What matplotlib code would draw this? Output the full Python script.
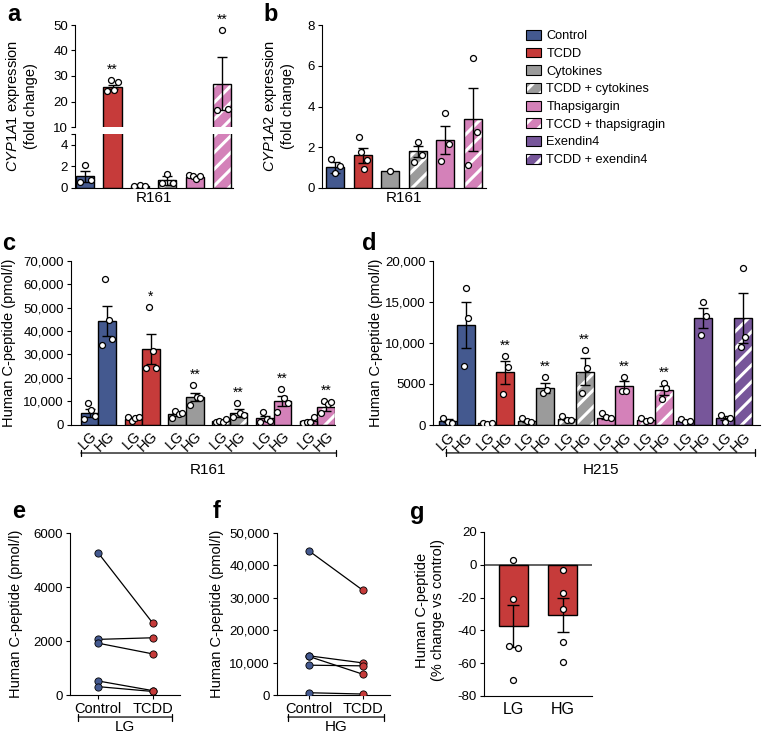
import numpy as np
import matplotlib.pyplot as plt
from matplotlib.patches import Patch
from matplotlib.ticker import FuncFormatter

plt.rcParams['font.family'] = ['Liberation Sans', 'DejaVu Sans']
plt.rcParams['mathtext.fontset'] = 'custom'
plt.rcParams['mathtext.it'] = 'Liberation Sans:italic'
plt.rcParams['mathtext.rm'] = 'Liberation Sans'
plt.rcParams['axes.unicode_minus'] = False
plt.rcParams['hatch.linewidth'] = 2.2
plt.rcParams['xtick.labelsize'] = 9.5
plt.rcParams['ytick.labelsize'] = 9.5

# treatment groups (legend order)
treat_names = ['Control', 'TCDD', 'Cytokines', 'TCDD + cytokines', 'Thapsigargin',
               'TCCD + thapsigragin', 'Exendin4', 'TCDD + exendin4']
blue, red, grey, pink, purple = '#44598f', '#c63b3a', '#9b9b9b', '#d481b9', '#77569a'
treat_colors = [blue, red, grey, grey, pink, pink, purple, purple]
treat_hatch = [False, False, False, True, False, True, False, True]

# a: CYP1A1 fold change, R161 (first six treatments)
a_mean = [1.1, 25.7, 0.2, 0.7, 1.0, 27.0]
a_sem = [0.5, 0.9, 0.05, 0.4, 0.12, 10.5]
a_pts = [[0.6, 2.1, 0.7], [24.0, 28.5, 24.5, 27.5], [0.2, 0.25, 0.2],
         [0.45, 1.3, 0.5], [1.2, 1.1, 0.8, 1.1], [16.5, 48.0, 17.0]]
a_star = ['', '**', '', '', '', '**']

# b: CYP1A2 fold change, R161
b_mean = [1.02, 1.6, 0.83, 1.8, 2.35, 3.38]
b_sem = [0.27, 0.36, 0, 0.27, 0.68, 1.55]
b_pts = [[1.4, 0.74, 1.1], [2.5, 1.77, 0.95, 1.35], [0.85],
         [1.3, 2.25, 1.6], [1.34, 3.7, 2.15], [1.12, 6.4, 2.76]]

# c: C-peptide R161 (pmol/l), LG / HG
c_lg_mean = [5100, 2300, 4400, 1700, 2700, 1400]
c_lg_sem = [1800, 500, 700, 400, 1200, 500]
c_lg_pts = [[2300, 9100, 6200, 3800], [3400, 1600, 3000, 3400], [2700, 5800, 4500, 5200],
            [1200, 1400, 1300, 2600], [1300, 5500, 2300, 1700], [900, 1300, 1200, 3100]]
c_hg_mean = [44200, 32200, 11900, 5000, 10100, 7400]
c_hg_sem = [6500, 6300, 1700, 1500, 2300, 1700]
c_hg_pts = [[33900, 62200, 44900, 36400], [24100, 50100, 31400, 24100],
            [8600, 16900, 11900, 11200], [3400, 9100, 5100, 4100],
            [5300, 15200, 11200, 9100], [5100, 10100, 8800, 9500]]
c_star = ['', '*', '**', '**', '**', '**']

# d: C-peptide H215 (pmol/l), LG / HG
d_lg_mean = [530, 200, 500, 700, 900, 600, 500, 900]
d_lg_sem = [200, 40, 150, 150, 150, 100, 100, 250]
d_lg_pts = [[900, 400, 300], [200, 150, 200], [900, 500, 400], [1100, 600, 600],
            [1400, 1000, 900], [800, 500, 650], [700, 350, 500], [1200, 400, 900]]
d_hg_mean = [12200, 6400, 4500, 6500, 4700, 4200, 13000, 13000]
d_hg_sem = [2800, 1350, 600, 1600, 600, 500, 1250, 3050]
d_hg_pts = [[7200, 16700, 13000], [3800, 8400, 7100], [3900, 5800, 4200], [3900, 9100, 6900],
            [4100, 5800, 4100], [3200, 5100, 4500], [10900, 15000, 13300], [9500, 19100, 10700]]
d_star = ['', '**', '**', '**', '**', '**', '', '']

# e / f: paired donors, control vs TCDD
pair_labels = ['Control', 'TCDD']
e_ctrl = [5270, 2060, 1920, 520, 310]
e_tcdd = [2650, 2120, 1520, 160, 130]
f_ctrl = [44500, 12100, 11900, 9200, 700]
f_tcdd = [32300, 9900, 6400, 9000, 300]

# g: % change vs control
g_labels = ['LG', 'HG']
g_mean = [-37.5, -30.7]
g_sem = [12.8, 10.2]
g_pts = [[3, -21, -49.5, -50.5, -70], [-3, -17.3, -27, -47.3, -59.2]]
g_dx = [[0, 0, -0.09, 0.09, 0], [0, 0, 0, 0, 0]]

W, H = 762, 733
fig = plt.figure(figsize=(W / 100, H / 100), dpi=100)


def box(l, t, r, b):
    ax = fig.add_axes([l / W, 1 - b / H, (r - l) / W, (b - t) / H])
    ax.spines[['top', 'right']].set_visible(False)
    ax.tick_params(direction='out', length=3, width=0.8, pad=2)
    return ax


def fmt(v, pos):
    return f'{int(v):,}' if abs(v) >= 10000 else f'{int(v)}'


def bars(ax, xs, means, sems, pts, colors, hatch, width, spread, clip=True):
    for x, m, s, p, c, h in zip(xs, means, sems, pts, colors, hatch):
        if h:
            ax.bar(x, m, width, color=c, edgecolor='white', hatch='//', linewidth=0, zorder=2)
            ax.bar(x, m, width, fill=False, edgecolor='black', linewidth=1, zorder=3)
        else:
            ax.bar(x, m, width, color=c, edgecolor='black', linewidth=1, zorder=2)
        if s > 0:
            ax.errorbar(x, m, yerr=s, fmt='none', ecolor='black', elinewidth=1,
                        capsize=3.5, capthick=1, zorder=4)
        dx = np.linspace(-spread, spread, len(p)) if len(p) > 1 else np.zeros(1)
        ax.plot(x + dx, p, 'o', ms=4.3, mfc='white', mec='black', mew=0.9,
                zorder=5, clip_on=clip)


def stars(ax, xs, means, sems, pts, marks):
    for x, m, s, p, t in zip(xs, means, sems, pts, marks):
        if t:
            ax.annotate(t, (x, max(max(p), m + s)), xytext=(0, 2.5), textcoords='offset points',
                        ha='center', va='bottom', fontsize=10, annotation_clip=False)


def bracket(ax, x0, x1, y, label, ly):
    tr = ax.get_xaxis_transform()
    ax.annotate('', xy=(x0, y), xytext=(x1, y), xycoords=tr, textcoords=tr,
                arrowprops=dict(arrowstyle='|-|,widthA=0.25,widthB=0.25', lw=0.9,
                                shrinkA=0, shrinkB=0), annotation_clip=False)
    ax.text((x0 + x1) / 2, ly, label, transform=tr, ha='center', va='center', fontsize=11)


# ---- panel a (broken axis)
xa = np.arange(6)
a_lo = box(75, 134, 233, 188)
a_hi = box(75, 25, 233, 127)
for ax in (a_lo, a_hi):
    bars(ax, xa, a_mean, a_sem, a_pts, treat_colors, treat_hatch, 0.66, 0.2)
    ax.set_xlim(-0.37, 5.4)
a_lo.set_ylim(0, 5)
a_lo.set_yticks([0, 2, 4, 5], ['0', '2', '4', ''])
a_lo.set_xticks([])
a_lo.set_xlabel('R161', fontsize=11, labelpad=2)
a_hi.set_ylim(10, 50)
a_hi.set_yticks([10, 20, 30, 40, 50])
a_hi.spines['bottom'].set_visible(False)
a_hi.set_xticks([])
stars(a_hi, xa, a_mean, a_sem, a_pts, a_star)
fig.text(21 / W, 1 - 106 / H, '$\\it{CYP1A1}$ expression\n(fold change)', rotation=90,
         ha='center', va='center', fontsize=10.5, multialignment='center')

# ---- panel b
b = box(322, 25, 486, 188)
bars(b, xa, b_mean, b_sem, b_pts, treat_colors, treat_hatch, 0.66, 0.15)
b.set_xlim(-0.49, 5.49)
b.set_ylim(0, 8)
b.set_yticks([0, 2, 4, 6, 8])
b.set_xticks([])
b.set_xlabel('R161', fontsize=11, labelpad=2)
fig.text(278 / W, 1 - 106 / H, '$\\it{CYP1A2}$ expression\n(fold change)', rotation=90,
         ha='center', va='center', fontsize=10.5, multialignment='center')

# ---- legend
handles = []
for c, h in zip(treat_colors, treat_hatch):
    if h:
        handles.append((Patch(facecolor=c, edgecolor='white', hatch='//', linewidth=0),
                        Patch(fill=False, edgecolor='black', linewidth=0.8)))
    else:
        handles.append(Patch(facecolor=c, edgecolor='black', linewidth=0.8))
fig.legend(handles, treat_names, loc='upper left', bbox_to_anchor=(526 / W, 1 - 30 / H),
           frameon=False, fontsize=9.2, handlelength=1.15, handleheight=0.8,
           handletextpad=0.45, labelspacing=0.42, borderaxespad=0, borderpad=0)

# ---- panel c
xc_lg = np.arange(6) * 2.5
xc_hg = xc_lg + 1
c = box(71, 260.7, 335, 424.7)
bars(c, xc_lg, c_lg_mean, c_lg_sem, c_lg_pts, treat_colors, treat_hatch, 1, 0.3)
bars(c, xc_hg, c_hg_mean, c_hg_sem, c_hg_pts, treat_colors, treat_hatch, 1, 0.3)
stars(c, xc_hg, c_hg_mean, c_hg_sem, c_hg_pts, c_star)
c.set_xlim(-1.06, 14.0)
c.set_ylim(0, 70000)
c.set_yticks(np.arange(0, 70001, 10000))
c.yaxis.set_major_formatter(FuncFormatter(fmt))
c.set_xticks(np.concatenate([xc_lg, xc_hg]), ['LG'] * 6 + ['HG'] * 6, rotation=45,
             ha='right', va='top', rotation_mode='anchor', fontsize=10.5)
c.tick_params(axis='x', length=0, pad=3)
bracket(c, -0.5, 14.05, -0.1726, 'R161', -0.276)
fig.text(9 / W, 1 - 342.7 / H, 'Human C-peptide (pmol/l)', rotation=90,
         ha='center', va='center', fontsize=10.5)

# ---- panel d
xd_lg = np.arange(8) * 2.2
xd_hg = xd_lg + 1
d = box(433, 260.7, 760, 425)
bars(d, xd_lg, d_lg_mean, d_lg_sem, d_lg_pts, treat_colors, treat_hatch, 1, 0.25)
bars(d, xd_hg, d_hg_mean, d_hg_sem, d_hg_pts, treat_colors, treat_hatch, 1, 0.12)
stars(d, xd_hg, d_hg_mean, d_hg_sem, d_hg_pts, d_star)
d.set_xlim(-0.82, 17.34)
d.set_ylim(0, 20000)
d.set_yticks(np.arange(0, 20001, 5000))
d.yaxis.set_major_formatter(FuncFormatter(fmt))
d.set_xticks(np.concatenate([xd_lg, xd_hg]), ['LG'] * 8 + ['HG'] * 8, rotation=45,
             ha='right', va='top', rotation_mode='anchor', fontsize=10.5)
d.tick_params(axis='x', length=0, pad=3)
bracket(d, -0.1, 17.07, -0.17, 'H215', -0.276)
fig.text(376 / W, 1 - 342.7 / H, 'Human C-peptide (pmol/l)', rotation=90,
         ha='center', va='center', fontsize=10.5)


# ---- panels e, f
def paired(ax, ctrl, tcdd, top, step):
    for y0, y1 in zip(ctrl, tcdd):
        ax.plot([0, 1], [y0, y1], color='black', lw=0.9, zorder=2)
    ax.plot(np.zeros(len(ctrl)), ctrl, 'o', ms=5.2, mfc=blue, mec='black', mew=0.6, zorder=3)
    ax.plot(np.ones(len(tcdd)), tcdd, 'o', ms=5.2, mfc=red, mec='black', mew=0.6, zorder=3)
    ax.set_ylim(0, top)
    ax.set_yticks(np.arange(0, top + 1, step))
    ax.yaxis.set_major_formatter(FuncFormatter(fmt))
    ax.set_xticks([0, 1], pair_labels, fontsize=10.5)


e = box(70, 533, 180, 695)
paired(e, e_ctrl, e_tcdd, 6000, 2000)
e.set_xlim(-0.51, 1.49)
bracket(e, -0.36, 1.34, -0.136, 'LG', -0.195)
fig.text(16 / W, 1 - 614 / H, 'Human C-peptide (pmol/l)', rotation=90,
         ha='center', va='center', fontsize=10.5)

f = box(277, 533, 390, 695)
paired(f, f_ctrl, f_tcdd, 50000, 10000)
f.set_xlim(-0.59, 1.5)
bracket(f, -0.39, 1.39, -0.136, 'HG', -0.195)
fig.text(217 / W, 1 - 614 / H, 'Human C-peptide (pmol/l)', rotation=90,
         ha='center', va='center', fontsize=10.5)

# ---- panel g
g = box(484, 532, 592, 696)
xg = np.arange(2)
g.axhline(0, color='#555555', lw=1.3, zorder=1)
for x, m, s, p, dx in zip(xg, g_mean, g_sem, g_pts, g_dx):
    g.bar(x, m, 0.59, color=red, edgecolor='black', linewidth=1, zorder=2)
    g.errorbar(x, m, yerr=s, fmt='none', ecolor='black', elinewidth=1, capsize=4.5,
               capthick=1, zorder=4)
    g.plot(x + np.array(dx), p, 'o', ms=4.3, mfc='white', mec='black', mew=0.9, zorder=5)
g.set_xlim(-0.6, 1.6)
g.set_ylim(-80, 20)
g.set_yticks(np.arange(-80, 21, 20))
g.set_xticks(xg, g_labels, fontsize=11.5)
g.tick_params(axis='x', length=0, pad=4)
fig.text(430 / W, 1 - 610 / H, 'Human C-peptide\n(% change vs control)', rotation=90,
         ha='center', va='center', fontsize=10.5, multialignment='center')

# ---- panel letters
for lab, x, y in [('a', 7, 21), ('b', 263, 21), ('c', 2, 250), ('d', 362, 250),
                  ('e', 12, 518), ('f', 213, 518), ('g', 410, 519)]:
    fig.text(x / W, 1 - y / H, lab, fontsize=17, fontweight='bold', ha='left', va='baseline')

fig.savefig('out.png', dpi=100)
